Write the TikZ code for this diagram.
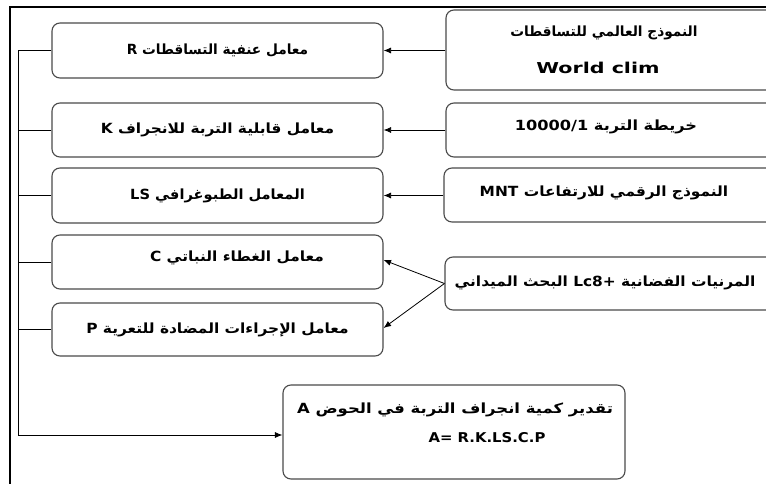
\documentclass[tikz,border=0pt]{standalone}
\usepackage{fontspec}
\usepackage{graphicx}
\usetikzlibrary{arrows.meta}
\TeXXeTstate=1
\newfontfamily\arfont[Script=Arabic,FakeStretch=1.1]{DejaVu Sans}
\newfontfamily\latfont[FakeStretch=1.1]{DejaVu Sans}
\newcommand{\hsc}[2]{\scalebox{#1}[1]{#2}}
\definecolor{boxgray}{RGB}{75,75,75}
\tikzset{
  box/.style={draw=boxgray, line width=1.1pt, rounded corners=8pt, inner sep=0pt, align=center,
    font=\arfont\bfseries\fontsize{14}{17}\selectfont},
  txt/.style={inner sep=0pt, font=\arfont\bfseries\fontsize{14}{17}\selectfont},
  arr/.style={draw=black, line width=0.8pt, -{Latex[length=7.5pt,width=6pt]}},
  conn/.style={draw=black, line width=0.8pt},
  frame/.style={draw=black, line width=1.1pt}
}
\begin{document}
\begin{tikzpicture}[x=1pt,y=-1pt]
\useasboundingbox (0,0) rectangle (766,484);
\clip (0,0) rectangle (766,484);
\fill[white] (0,0) rectangle (766,484);
\draw[frame] (10,490) -- (10,7) -- (780,7);
% left column
\node[box, minimum width=331pt, minimum height=55pt] (r) at (217.5,50.5) {\hsc{0.89}{\beginR معامل عنفية التساقطات R\endR}};
\node[box, minimum width=331pt, minimum height=54pt] (k) at (217.5,130) {\beginR معامل قابلية التربة للانجراف K\endR};
\node[box, minimum width=331pt, minimum height=55pt] (ls) at (217.5,195.5) {\hsc{0.95}{\beginR المعامل الطبوغرافي \beginL LS\endL\endR}};
\node[box, minimum width=331pt, minimum height=54pt] (c) at (217.5,262) {};
\node[txt] (ct) at (237,258) {\beginR معامل الغطاء النباتي C\endR};
\node[box, minimum width=331pt, minimum height=53pt] (p) at (217.5,329.5) {\beginR معامل الإجراءات المضادة للتعرية P\endR};
% result
\node[box, minimum width=342pt, minimum height=94pt] (a) at (454,432) {};
\node[txt] (a1) at (455,410) {\hsc{1.07}{\beginR تقدير كمية انجراف التربة في الحوض A\endR}};
\node[txt, font=\latfont\bfseries\fontsize{13.5}{16}\selectfont] (a2) at (487,438) {A= R.K.LS.C.P};
% right column
\node[box, minimum width=329pt, minimum height=80pt] (wc) at (610.5,50) {};
\node[txt] (wc1) at (604,33) {\hsc{0.89}{\beginR النموذج العالمي للتساقطات\endR}};
\node[txt, font=\latfont\bfseries\fontsize{15}{17}\selectfont] (wc2) at (598,68) {\hsc{1.25}{World clim}};
\node[box, minimum width=329pt, minimum height=54pt] (soil) at (610.5,130) {};
\node[txt] (soilt) at (606,127) {\hsc{1.05}{\beginR خريطة التربة \beginL{\latfont\bfseries 10000/1}\endL\endR}};
\node[box, minimum width=331pt, minimum height=54pt] (mnt) at (609.5,195) {};
\node[txt] (mntt) at (604,193) {\beginR النموذج الرقمي للارتفاعات \beginL{\latfont\bfseries MNT}\endL\endR};
\node[box, minimum width=330pt, minimum height=53pt] (sat) at (610,283.5) {};
\node[txt] (satt) at (605,283) {\beginR المرنيات الفضانية \beginL{\latfont\bfseries Lc8+}\endL{} البحث الميداني\endR};
% arrows right -> left
\draw[arr] (wc.west |- r) -- (r.east);
\draw[arr] (soil.west |- k) -- (k.east);
\draw[arr] (mnt.west |- ls) -- (ls.east);
\draw[arr] (sat.west) -- ([yshift=2pt]c.east);
\draw[arr] (sat.west) -- ([yshift=1.5pt]p.east);
% bus
\coordinate (bus) at (18,0);
\draw[conn] (r.west) -- (r.west -| bus);
\draw[conn] (k.west) -- (k.west -| bus);
\draw[conn] (ls.west) -- (ls.west -| bus);
\draw[conn] (c.west) -- (c.west -| bus);
\draw[conn] (p.west) -- (p.west -| bus);
\draw[arr] (r.west -| bus) -- ([yshift=-3pt]a.west -| bus) -- ([yshift=-3pt]a.west);
\end{tikzpicture}
\end{document}
